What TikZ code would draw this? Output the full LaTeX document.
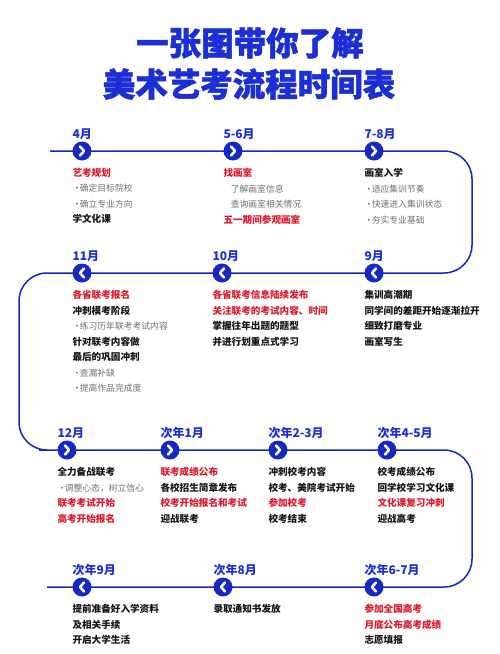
\documentclass[tikz,border=0pt]{standalone}
\usepackage{fontspec}
\setmainfont{Noto Sans CJK SC}
\newfontfamily\headfont{Noto Sans CJK SC}[BoldFeatures={FakeBold=1.6}]
\usetikzlibrary{calc,positioning,backgrounds}
\definecolor{titleblue}{RGB}{28,46,214}
\definecolor{lineblue}{RGB}{22,40,196}
\definecolor{stepred}{RGB}{222,24,44}
\definecolor{itemgray}{RGB}{112,112,112}
\definecolor{itemblack}{RGB}{20,20,24}
\tikzset{
timeline/.style={draw=lineblue, line width=1.5pt, rounded corners=28pt},
stepdot/.style={circle, fill=lineblue, minimum size=19pt, inner sep=0pt},
nextdot/.style={stepdot, path picture={
  \draw[white, line width=2.6pt, line cap=round, line join=round]
  ([shift={(-2pt,4.5pt)}]path picture bounding box.center) -- ++(4pt,-4.5pt) -- ++(-4pt,-4.5pt);}},
backdot/.style={stepdot, path picture={
  \draw[white, line width=2.6pt, line cap=round, line join=round]
  ([shift={(2pt,4.5pt)}]path picture bounding box.center) -- ++(-4pt,-4.5pt) -- ++(4pt,-4.5pt);}},
monthlbl/.style={font=\bfseries\fontsize{12}{14}\selectfont, text=titleblue, anchor=base west, inner sep=0pt},
itemlist/.style={align=left, anchor=north west, inner sep=0pt, font=\bfseries\fontsize{9.6}{15.5}\selectfont, text=itemblack},
titletext/.style={font=\headfont\bfseries\fontsize{32.5}{40}\selectfont, text=titleblue}
}
\newcommand{\hotline}[1]{{\color{stepred}#1}}
\newcommand{\tipline}[1]{{\mdseries\fontsize{8.8}{15.5}\selectfont\color{itemgray}•\kern-1.5pt#1}}
\newcommand{\softline}[1]{{\mdseries\fontsize{8.8}{15.5}\selectfont\color{itemgray}\phantom{•}\kern-1.5pt#1}}

\begin{document}
\begin{tikzpicture}[x=1pt,y=-1pt]
\useasboundingbox (0,0) rectangle (500,654);

% title
\node[titletext] (titleA) at (250,43) {一张图带你了解};
\node[titletext] (titleB) at (249,84) {美术艺考流程时间表};

% row 1
\node[nextdot] (apr) at (82,151) {};
\node[nextdot] (mayjun) at (233,151) {};
\node[nextdot] (julaug) at (374,151) {};
% row 2
\node[backdot] (sep) at (374,273) {};
\node[backdot] (oct) at (222,273) {};
\node[backdot] (nov) at (82,273) {};
% row 3
\node[nextdot] (dec) at (67,450) {};
\node[nextdot] (jan) at (170,450) {};
\node[nextdot] (febmar) at (278,450) {};
\node[nextdot] (aprmay) at (387,450) {};
% row 4
\node[backdot] (junjul) at (374,587) {};
\node[backdot] (aug) at (223,587) {};
\node[backdot] (nsep) at (82,587) {};

\coordinate (tlstart) at (50,151);
\coordinate (turnA) at (472,151);
\coordinate (turnB) at (472,273);
\coordinate (turnC) at (19,273);
\coordinate (turnD) at (19,450);
\coordinate (turnE) at (472,450);
\coordinate (turnF) at (472,587);
\coordinate (tlend) at (47,587);

\begin{scope}[on background layer]
\fill[white] (0,0) rectangle (500,654);
\draw[timeline] (tlstart) -- (apr.center) -- (mayjun.center) -- (julaug.center) -- (turnA)
  -- (turnB) -- (sep.center) -- (oct.center) -- (nov.center) -- (turnC)
  -- (turnD) -- (dec.center) -- (jan.center) -- (febmar.center) -- (aprmay.center) -- (turnE)
  -- (turnF) -- (junjul.center) -- (aug.center) -- (nsep.center) -- (tlend);
\end{scope}

% month labels
\foreach \dot/\txt in {apr/4月, mayjun/5-6月, julaug/7-8月, nov/11月, oct/10月, sep/9月,
  dec/12月, jan/次年1月, febmar/次年2-3月, aprmay/次年4-5月, nsep/次年9月, aug/次年8月, junjul/次年6-7月} {
  \node[monthlbl] (\dot-lbl) at ([yshift=12.5pt]\dot.west) {\txt};
}

% row 1 texts
\node[itemlist] (apr-txt) at ([yshift=-17pt]apr.west)
{\hotline{艺考规划}\\\tipline{确定目标院校}\\\tipline{确立专业方向}\\学文化课};
\node[itemlist] (mayjun-txt) at ([yshift=-17pt]mayjun.west)
{\hotline{找画室}\\\softline{了解画室信息}\\\softline{查询画室相关情况}\\\hotline{五一期间参观画室}};
\node[itemlist] (julaug-txt) at ([yshift=-17pt]julaug.west)
{画室入学\\\tipline{适应集训节奏}\\\tipline{快速进入集训状态}\\\tipline{夯实专业基础}};

% row 2 texts
\node[itemlist] (nov-txt) at ([yshift=-17pt]nov.west)
{\hotline{各省联考报名}\\冲刺模考阶段\\\tipline{练习历年联考考试内容}\\针对联考内容做\\最后的巩固冲刺\\\tipline{查漏补缺}\\\tipline{提高作品完成度}};
\node[itemlist] (oct-txt) at ([yshift=-17pt]oct.west)
{\hotline{各省联考信息陆续发布}\\\hotline{关注联考的考试内容、时间}\\掌握往年出题的题型\\并进行划重点式学习};
\node[itemlist] (sep-txt) at ([yshift=-17pt]sep.west)
{集训高潮期\\同学间的差距开始逐渐拉开\\细致打磨专业\\画室写生};

% row 3 texts
\node[itemlist] (dec-txt) at ([yshift=-17pt]dec.west)
{全力备战联考\\\tipline{调整心态，树立信心}\\\hotline{联考考试开始}\\\hotline{高考开始报名}};
\node[itemlist] (jan-txt) at ([yshift=-17pt]jan.west)
{\hotline{联考成绩公布}\\各校招生简章发布\\\hotline{校考开始报名和考试}\\迎战联考};
\node[itemlist] (febmar-txt) at ([yshift=-17pt]febmar.west)
{冲刺校考内容\\校考、美院考试开始\\\hotline{参加校考}\\校考结束};
\node[itemlist] (aprmay-txt) at ([yshift=-17pt]aprmay.west)
{校考成绩公布\\回学校学习文化课\\\hotline{文化课复习冲刺}\\迎战高考};

% row 4 texts
\node[itemlist] (nsep-txt) at ([yshift=-17pt]nsep.west)
{提前准备好入学资料\\及相关手续\\开启大学生活};
\node[itemlist] (aug-txt) at ([yshift=-17pt]aug.west)
{录取通知书发放};
\node[itemlist] (junjul-txt) at ([yshift=-17pt]junjul.west)
{\hotline{参加全国高考}\\\hotline{月底公布高考成绩}\\志愿填报};

\end{tikzpicture}
\end{document}
